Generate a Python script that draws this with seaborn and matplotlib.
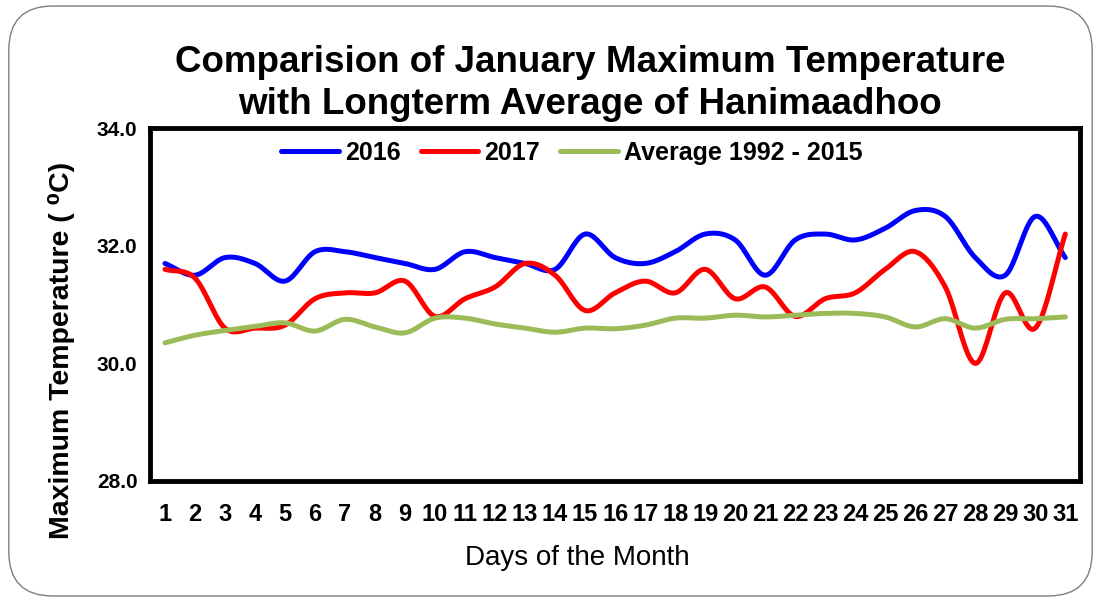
import numpy as np
import pandas as pd
import matplotlib
matplotlib.use("Agg")
import matplotlib.pyplot as plt
from matplotlib.patches import FancyBboxPatch
from matplotlib.lines import Line2D
import seaborn as sns

sns.set_style("white")
plt.rcParams['font.family'] = ['Liberation Sans', 'DejaVu Sans']
plt.rcParams['text.color'] = 'black'
plt.rcParams['axes.labelcolor'] = 'black'
plt.rcParams['xtick.labelcolor'] = 'black'
plt.rcParams['ytick.labelcolor'] = 'black'

#%% Data

days = list(range(1, 32))

temp_2016 = [31.7, 31.5, 31.8, 31.7, 31.4, 31.9, 31.9, 31.8, 31.7, 31.6,
             31.9, 31.8, 31.7, 31.6, 32.2, 31.8, 31.7, 31.9, 32.2, 32.1,
             31.5, 32.1, 32.2, 32.1, 32.3, 32.6, 32.5, 31.8, 31.5, 32.5, 31.8]

temp_2017 = [31.6, 31.45, 30.6, 30.6, 30.65, 31.1, 31.2, 31.2, 31.4, 30.8,
             31.1, 31.3, 31.7, 31.5, 30.9, 31.2, 31.4, 31.2, 31.6, 31.1,
             31.3, 30.8, 31.1, 31.2, 31.6, 31.9, 31.3, 30.0, 31.2, 30.6, 32.2]

temp_avg = [30.35, 30.48, 30.56, 30.63, 30.69, 30.55, 30.75, 30.62, 30.52, 30.77,
            30.77, 30.67, 30.6, 30.53, 30.6, 30.59, 30.65, 30.77, 30.77, 30.82,
            30.79, 30.82, 30.85, 30.85, 30.79, 30.62, 30.76, 30.6, 30.75, 30.76, 30.79]

series_names = ["2016", "2017", "Average 1992 - 2015"]
series_colors = ["#0000FF", "#FF0000", "#9BBB59"]

#%% Smooth lines (Catmull-Rom, like a spreadsheet "smoothed line")

def smooth(x, y, n = 20):
    x = np.asarray(x, float)
    y = np.asarray(y, float)
    px = np.concatenate([[2 * x[0] - x[1]], x, [2 * x[-1] - x[-2]]])
    py = np.concatenate([[2 * y[0] - y[1]], y, [2 * y[-1] - y[-2]]])
    xs, ys = [], []
    t = np.linspace(0, 1, n, endpoint = False)
    for i in range(1, len(px) - 2):
        for p, out in ((px, xs), (py, ys)):
            p0, p1, p2, p3 = p[i - 1], p[i], p[i + 1], p[i + 2]
            out.extend(0.5 * ((2 * p1) + (-p0 + p2) * t
                              + (2 * p0 - 5 * p1 + 4 * p2 - p3) * t ** 2
                              + (-p0 + 3 * p1 - 3 * p2 + p3) * t ** 3))
    xs.append(x[-1])
    ys.append(y[-1])
    return xs, ys

frames = []
for name, vals in zip(series_names, [temp_2016, temp_2017, temp_avg]):
    sx, sy = smooth(days, vals)
    frames.append(pd.DataFrame({"day": sx, "temp": sy, "series": name}))
df = pd.concat(frames, ignore_index = True)

#%% Plot

fig = plt.figure(figsize = (11.01, 6.02), dpi = 100)
ax = fig.add_axes([0.1362, 0.201, 0.845, 0.586])

sns.lineplot(data = df, x = "day", y = "temp", hue = "series",
             palette = dict(zip(series_names, series_colors)),
             linewidth = 3.6, sort = False, estimator = None, legend = False, ax = ax)

ax.set_xlim(0.5, 31.5)
ax.set_ylim(28, 34)
ax.set_yticks([28, 30, 32, 34])
ax.set_yticklabels(["28.0", "30.0", "32.0", "34.0"], fontsize = 15, fontweight = "bold")
ax.set_xticks(days)
ax.set_xticklabels([str(d) for d in days], fontsize = 17, fontweight = "bold")
ax.set_xticks(np.arange(0.5, 32, 1), minor = True)
ax.tick_params(axis = "x", which = "major", length = 0, pad = 16)
ax.tick_params(axis = "x", which = "minor", length = 6, color = "#808080", width = 1)
ax.tick_params(axis = "y", which = "major", length = 6, color = "#808080", width = 1, pad = 3)

for s in ax.spines.values():
    s.set_linewidth(3.5)
    s.set_color("black")

ax.set_xlabel("Days of the Month", fontsize = 20)
ax.xaxis.set_label_coords(0.459, -0.182)
ax.set_ylabel("Maximum Temperature ( \u2070C)", fontsize = 20.5, fontweight = "bold", va = "center")
ax.yaxis.set_label_coords(-0.095, 0.371)

handles = [Line2D([0], [0], color = c, lw = 3.6, solid_capstyle = "round") for c in series_colors]
ax.legend(handles, series_names, loc = "center", ncol = 3, frameon = False,
          bbox_to_anchor = (572 / 1101, 1 - 153 / 602), bbox_transform = fig.transFigure,
          prop = {"size": 18, "weight": "bold"}, handlelength = 2.3,
          handletextpad = 0.25, columnspacing = 0.8)

fig.text(590 / 1101, 1 - 63 / 602, "Comparision of January Maximum Temperature",
         ha = "center", va = "center", fontsize = 26.5, fontweight = "bold")
fig.text(590 / 1101, 1 - 104 / 602, "with Longterm Average of Hanimaadhoo",
         ha = "center", va = "center", fontsize = 26.5, fontweight = "bold")

border = FancyBboxPatch((0.008, 0.01), 0.984, 0.98, boxstyle = "round,pad=0,rounding_size=0.04",
                        transform = fig.transFigure, fill = False, edgecolor = "#7F7F7F",
                        linewidth = 1, mutation_aspect = 1101 / 602)
fig.patches.append(border)

fig.savefig("out.png", dpi = 100)
